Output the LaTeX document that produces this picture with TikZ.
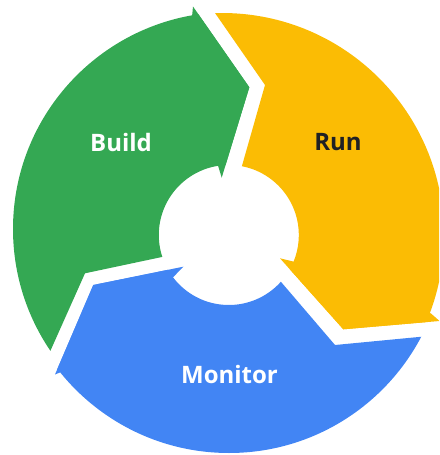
\documentclass[tikz,border=0pt]{standalone}
\usepackage{fontspec}
\setmainfont{Open Sans}
\usetikzlibrary{calc}
\definecolor{gbuild}{HTML}{34A853}
\definecolor{grun}{HTML}{FBBC04}
\definecolor{gmonitor}{HTML}{4285F4}
\definecolor{gtext}{HTML}{202124}

\begin{document}
\begin{tikzpicture}[x=1pt,y=-1pt,
	stage/.style={font=\fontsize{24}{28}\selectfont\bfseries}]
	\useasboundingbox (0,0) rectangle (439,455);
	\clip (0,0) rectangle (439,455);
	\coordinate (h) at (228.8,235);
	% build: arrow head at top, notch at bottom left
	\coordinate (gO) at (193,6.5);
	\coordinate (gT) at (249.3,87.3);
	\coordinate (gI) at (221.7,177.7);
	\coordinate (gBo) at (192,17);
	\coordinate (gBi) at (218,165.5);
	\coordinate (gNo) at (50,351.7);
	\coordinate (gNv) at (85,273.3);
	\coordinate (gNi) at (163.3,256.7);
	% run
	\coordinate (yO) at (439.5,321);
	\coordinate (yT) at (343.3,329.3);
	\coordinate (yI) at (280,258.3);
	\coordinate (yBo) at (431,313.5);
	\coordinate (yBi) at (294,261.7);
	\coordinate (yNo) at (215,13);
	\coordinate (yNv) at (265,85);
	\coordinate (yNi) at (242.7,163.3);
	% monitor
	\coordinate (bO) at (55,374.5);
	\coordinate (bT) at (93.3,285);
	\coordinate (bI) at (183.3,266.7);
	\coordinate (bBo) at (63.5,371);
	\coordinate (bBi) at (172.3,278.1);
	\coordinate (bNo) at (421.7,336.7);
	\coordinate (bNv) at (335,345);
	\coordinate (bNi) at (281.7,282.7);
	\foreach \s/\col/\ctr/\rad/\far in {g/gbuild/{230,229}/217/{-400,200},
		y/grun/{222,235}/222/{800,-400},
		b/gmonitor/{229,236}/217/{200,1000}}
	{
		\begin{scope}
			\clip ($(\s Nv)!4!(\s No)$) -- (\s Nv) -- ($(\s Nv)!1.6!(\s Ni)$)
				-- ($(\s T)!1.6!(\s I)$) -- (\s T) -- ($(\s T)!4!(\s O)$) -- (\far) -- cycle;
			\fill[\col,even odd rule] (\ctr) circle (\rad) (h) circle (70);
		\end{scope}
		\fill[\col] (\s Bo) -- (\s O) -- (\s T) -- (\s I) -- (\s Bi) -- cycle;
	};
	\node[stage,text=white] (build) at (121,142) {Build};
	\node[stage,text=gtext] (run) at (338,142) {Run};
	\node[stage,text=white] (monitor) at (229.5,374) {Monitor};
\end{tikzpicture}
\end{document}
